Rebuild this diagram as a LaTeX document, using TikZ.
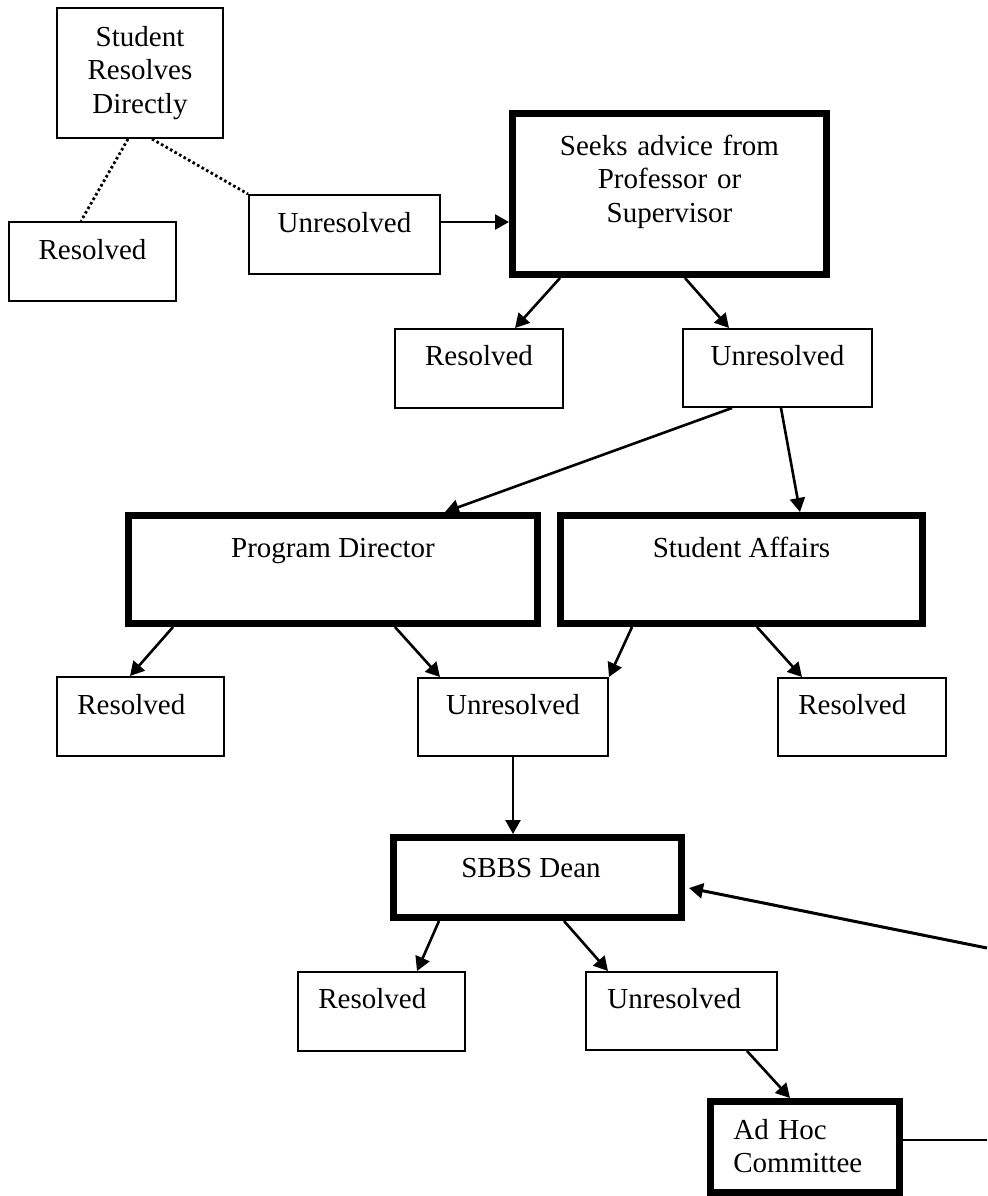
\documentclass[tikz,border=0pt]{standalone}
\usepackage{fontspec}
\setmainfont{Liberation Serif}
\usetikzlibrary{calc,arrows.meta}
\begin{document}
\begin{tikzpicture}[x=0.5pt,y=-0.5pt,
  thinbox/.style={draw, line width=1pt, rectangle, inner sep=0pt},
  thickbox/.style={draw, line width=3.5pt, rectangle, inner sep=0pt},
  txt/.style={inner sep=0pt, font=\fontsize{14.5pt}{16.75pt}\selectfont},
  arr/.style={line width=1.3pt, -{Triangle[length=7pt,width=7.5pt]}},
  dotline/.style={line width=1.4pt, dash pattern=on 1.3pt off 1.3pt},
  plainline/.style={line width=1.3pt}]
\useasboundingbox (0,0) rectangle (987,1196);
% boxes
\node[thinbox, minimum width=83pt, minimum height=65pt] (stu) at (140,73) {};
\node[thinbox, minimum width=83.5pt, minimum height=39.5pt] (res0) at (92.5,261.5) {};
\node[thinbox, minimum width=95.5pt, minimum height=39.5pt] (unr0) at (344.5,234.5) {};
\node[thickbox, minimum width=157pt, minimum height=80.5pt] (seek) at (669.5,194) {};
\node[thinbox, minimum width=84pt, minimum height=39.5pt] (res1) at (479,368.5) {};
\node[thinbox, minimum width=94.5pt, minimum height=39pt] (unr1) at (777.5,368) {};
\node[thickbox, minimum width=204.5pt, minimum height=54pt] (pd) at (333,569.5) {};
\node[thickbox, minimum width=181pt, minimum height=54pt] (sa) at (741.5,569.5) {};
\node[thinbox, minimum width=83.5pt, minimum height=39.5pt] (res2) at (140.5,716.5) {};
\node[thinbox, minimum width=95pt, minimum height=39pt] (unr2) at (513,717) {};
\node[thinbox, minimum width=84pt, minimum height=39pt] (res3) at (862,717) {};
\node[thickbox, minimum width=144pt, minimum height=40pt] (dean) at (537.5,877.5) {};
\node[thinbox, minimum width=83.5pt, minimum height=39.5pt] (res4) at (381.5,1011.5) {};
\node[thinbox, minimum width=95.5pt, minimum height=39pt] (unr4) at (681.5,1011) {};
\node[thickbox, minimum width=94.5pt, minimum height=45.5pt] (adhoc) at (805,1147) {};
% texts
\node[txt, text width=80pt, align=center, anchor=base] (t-stu) at (140,46) {Student\\Resolves\\Directly};
\node[txt, anchor=base] (t-res0) at (92.5,259) {Resolved};
\node[txt, anchor=base] (t-unr0) at (344.5,232) {Unresolved};
\node[txt, text width=150pt, align=center, anchor=base] (t-seek) at (669.5,155) {Seeks advice from\\Professor or\\Supervisor};
\node[txt, anchor=base] (t-res1) at (479,365) {Resolved};
\node[txt, anchor=base] (t-unr1) at (777.5,365) {Unresolved};
\node[txt, anchor=base] (t-pd) at (333,557) {Program Director};
\node[txt, anchor=base] (t-sa) at (741.5,557) {Student Affairs};
\node[txt, anchor=base west] (t-res2) at (77,714) {Resolved};
\node[txt, anchor=base] (t-unr2) at (513,714) {Unresolved};
\node[txt, anchor=base west] (t-res3) at (798,714) {Resolved};
\node[txt, anchor=base] (t-dean) at (531,877) {SBBS Dean};
\node[txt, anchor=base west] (t-res4) at (318,1008) {Resolved};
\node[txt, anchor=base west] (t-unr4) at (607,1008) {Unresolved};
\node[txt, text width=85pt, align=left, anchor=base west] (t-adhoc) at (733,1139) {Ad Hoc\\Committee};
% edge coordinates
\coordinate (e1) at (987,1140);
\coordinate (e2) at (987,948);
% connectors
\draw[dotline] ($(stu.south west)+(72,0)$) -- ($(res0.north west)+(73,0)$);
\draw[dotline] ($(stu.south west)+(96,0)$) -- (unr0.north west);
\draw[arr] ($(unr0.north east)+(0,28)$) -- ($(seek.north west)+(0,112)$);
\draw[arr] ($(seek.south west)+(51,0)$) -- ($(res1.north west)+(121,0)$);
\draw[arr] ($(seek.south west)+(176,0)$) -- ($(unr1.north west)+(47,0)$);
\draw[arr] ($(unr1.south west)+(50,0)$) -- ($(pd.north west)+(320,0)$);
\draw[arr] ($(unr1.south west)+(99,0)$) -- ($(sa.north west)+(243,0)$);
\draw[arr] ($(pd.south west)+(48,0)$) -- ($(res2.north west)+(74,0)$);
\draw[arr] ($(pd.south west)+(270,0)$) -- ($(unr2.north west)+(23,0)$);
\draw[arr] ($(sa.south west)+(75,0)$) -- (unr2.north east);
\draw[arr] ($(sa.south west)+(200,0)$) -- ($(res3.north west)+(25,0)$);
\draw[arr] (unr2.south) -- (unr2.south |- dean.north);
\draw[arr] ($(dean.south west)+(49,0)$) -- ($(res4.north west)+(120,0)$);
\draw[arr] ($(dean.south west)+(174,0)$) -- ($(unr4.north west)+(23,0)$);
\draw[arr] ($(unr4.south west)+(162,0)$) -- ($(adhoc.north west)+(83,0)$);
\draw[plainline] ($(adhoc.north east)+(0,42)$) -- (e1);
\draw[arr, line width=1.5pt] (e2) -- ($(dean.north east)+(4,54)$);
\end{tikzpicture}
\end{document}
